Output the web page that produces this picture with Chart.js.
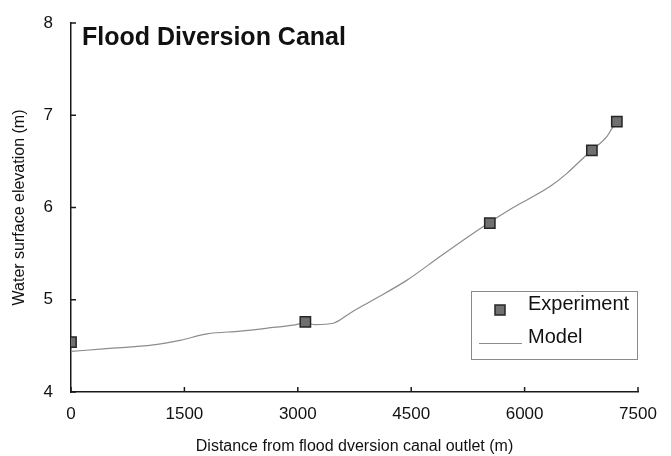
<!DOCTYPE html>
<html>
<head>
<meta charset="utf-8">
<script src="https://cdn.jsdelivr.net/npm/chart.js@4.4.1/dist/chart.umd.min.js"></script>
<style>
  html, body { margin: 0; padding: 0; background: #fff; }
  #wrap { width: 671px; height: 456px; }
</style>
</head>
<body>
<div id="wrap"><canvas id="c" width="671" height="456"></canvas></div>
<script>
// Measured water levels along the canal
const expDistance = [0, 3100, 5540, 6890, 7220];
const expElevation = [4.54, 4.76, 5.83, 6.62, 6.93];

// Simulated water surface profile
const modelDistance = [0, 470, 1090, 1440, 1800, 2240, 2680, 2940, 3100, 3230, 3470, 3700, 4000, 4440, 4900, 5410, 5850, 6070, 6340, 6560, 6780, 6890, 7090, 7150, 7200];
const modelElevation = [4.44, 4.47, 4.51, 4.56, 4.63, 4.66, 4.70, 4.725, 4.75, 4.73, 4.745, 4.86, 5.0, 5.21, 5.48, 5.77, 6.0, 6.10, 6.23, 6.37, 6.54, 6.62, 6.77, 6.85, 6.90];

const xTicks = [0, 1500, 3000, 4500, 6000, 7500];
const yTicks = [4, 5, 6, 7, 8];

const chartTitle = 'Flood Diversion Canal';
const seriesNames = ['Experiment', 'Model'];
const xTitle = 'Distance from flood dversion canal outlet (m)';
const yTitle = 'Water surface elevation (m)';

const FONT = "'Liberation Sans', Arial, sans-serif";
const MARK_FILL = '#707070';
const MARK_EDGE = '#262626';
const LINE_COLOR = '#8c8c8c';

const toPoints = (xs, ys) => xs.map((x, i) => ({ x, y: ys[i] }));

// Inward tick marks, a bold title inside the plot and a boxed legend
const decorations = {
  id: 'decorations',
  afterDraw(chart) {
    const ctx = chart.ctx;
    const xs = chart.scales.x, ys = chart.scales.y;
    const area = chart.chartArea;
    ctx.save();
    ctx.strokeStyle = '#1a1a1a';
    ctx.lineWidth = 1.5;
    ctx.beginPath();
    xTicks.forEach(v => {
      const px = xs.getPixelForValue(v);
      ctx.moveTo(px, area.bottom);
      ctx.lineTo(px, area.bottom - 5);
    });
    yTicks.forEach(v => {
      const py = ys.getPixelForValue(v);
      ctx.moveTo(area.left, py);
      ctx.lineTo(area.left + 5, py);
    });
    ctx.stroke();

    // title
    ctx.fillStyle = '#111';
    ctx.font = 'bold 25px ' + FONT;
    ctx.textAlign = 'left';
    ctx.textBaseline = 'alphabetic';
    ctx.fillText(chartTitle, 82, 45);

    // legend
    const lx = 471, ly = 291, lw = 166, lh = 68;
    ctx.fillStyle = '#fff';
    ctx.fillRect(lx, ly, lw, lh);
    ctx.strokeStyle = '#8a8a8a';
    ctx.lineWidth = 1;
    ctx.strokeRect(lx + 0.5, ly + 0.5, lw, lh);

    ctx.fillStyle = MARK_FILL;
    ctx.strokeStyle = MARK_EDGE;
    ctx.lineWidth = 1.5;
    ctx.fillRect(495, 305, 10, 10);
    ctx.strokeRect(495, 305, 10, 10);

    ctx.strokeStyle = LINE_COLOR;
    ctx.lineWidth = 1;
    ctx.beginPath();
    ctx.moveTo(479, 343.5);
    ctx.lineTo(522, 343.5);
    ctx.stroke();

    ctx.fillStyle = '#111';
    ctx.font = '20px ' + FONT;
    ctx.textBaseline = 'middle';
    ctx.fillText(seriesNames[0], 528, 304);
    ctx.fillText(seriesNames[1], 528, 337);
    ctx.restore();
  }
};

new Chart(document.getElementById('c'), {
  type: 'scatter',
  data: {
    datasets: [
      {
        label: seriesNames[1],
        data: toPoints(modelDistance, modelElevation),
        showLine: true,
        borderColor: LINE_COLOR,
        borderWidth: 1.2,
        pointRadius: 0,
        cubicInterpolationMode: 'monotone',
        order: 2
      },
      {
        label: seriesNames[0],
        data: toPoints(expDistance, expElevation),
        showLine: false,
        pointStyle: 'rect',
        pointRadius: 7.3,
        backgroundColor: MARK_FILL,
        borderColor: MARK_EDGE,
        borderWidth: 1.5,
        order: 1
      }
    ]
  },
  options: {
    responsive: false,
    animation: false,
    events: [],
    layout: { padding: { top: 23, right: 33, left: 0, bottom: 0 } },
    plugins: { legend: { display: false }, title: { display: false }, tooltip: { enabled: false } },
    scales: {
      x: {
        type: 'linear',
        min: 0, max: 7500,
        afterBuildTicks: s => { s.ticks = xTicks.map(v => ({ value: v })); },
        afterFit: s => { s.height = 64; },
        grid: { display: false },
        border: { display: true, color: '#1a1a1a', width: 1.5 },
        ticks: { color: '#111', font: { family: FONT, size: 17 }, padding: 4, callback: v => String(v) },
        title: { display: true, text: xTitle, color: '#111', font: { family: FONT, size: 16 }, padding: { top: 0, bottom: 0 } }
      },
      y: {
        type: 'linear',
        min: 4, max: 8,
        afterBuildTicks: s => { s.ticks = yTicks.map(v => ({ value: v })); },
        afterFit: s => { s.width = 71; },
        grid: { display: false },
        border: { display: true, color: '#1a1a1a', width: 1.5 },
        ticks: { color: '#111', font: { family: FONT, size: 17 }, padding: 10, callback: v => String(v) },
        title: { display: true, text: yTitle, color: '#111', font: { family: FONT, size: 16 }, padding: { top: 10, bottom: 0 } }
      }
    }
  },
  plugins: [decorations]
});
</script>
</body>
</html>
